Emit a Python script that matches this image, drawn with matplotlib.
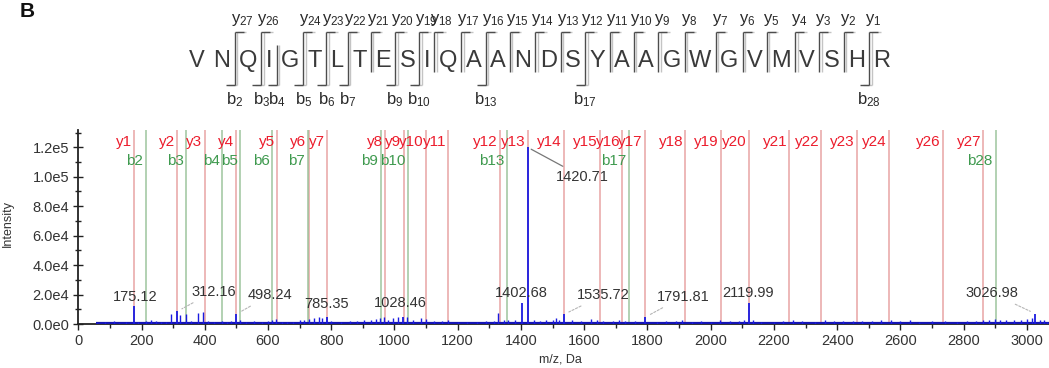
import math
import matplotlib
matplotlib.use("Agg")
import matplotlib.pyplot as plt
from matplotlib.lines import Line2D
from matplotlib.ticker import MultipleLocator, FixedLocator, FuncFormatter
from matplotlib.font_manager import FontProperties

plt.rcParams["font.family"] = ["Liberation Sans", "DejaVu Sans"]
plt.rcParams["mathtext.fontset"] = "custom"
plt.rcParams["mathtext.rm"] = "Liberation Sans"
plt.rcParams["mathtext.it"] = "Liberation Sans:italic"
plt.rcParams["mathtext.bf"] = "Liberation Sans:bold"

# ---------------- data ----------------
sequence = "VNQIGTLTESIQAANDSYAAGWGVMVSHR"

y_ion_numbers = [1, 2, 3, 4, 5, 6, 7, 8, 9, 10, 11, 12, 13, 14, 15, 16, 17,
                 18, 19, 20, 21, 22, 23, 24, 26, 27]
y_ion_mz = [175.1, 312.2, 399.2, 498.3, 629.3, 728.4, 785.4, 971.5, 1028.5,
            1099.5, 1170.6, 1333.6, 1420.7, 1535.7, 1649.7, 1720.8, 1791.8,
            1919.9, 2033.0, 2120.0, 2249.0, 2350.1, 2463.2, 2564.2, 2734.3,
            2862.4]

b_ion_numbers = [2, 3, 4, 5, 6, 7, 9, 10, 13, 17, 28]
b_ion_mz = [214.1, 342.2, 455.3, 512.3, 613.3, 726.4, 956.5, 1043.5, 1355.7,
            1742.9, 2901.4]

labeled_text = ["175.12", "312.16", "498.24", "785.35", "1028.46", "1402.68",
                "1420.71", "1535.72", "1791.81", "2119.99", "3026.98"]
labeled_mz = [175.12, 312.16, 498.24, 785.35, 1028.46, 1402.68, 1420.71,
              1535.72, 1791.81, 2119.99, 3026.98]
labeled_intensity = [12500, 8500, 6500, 5000, 5000, 14000, 120000, 6500, 4500,
                     14500, 7000]

peak_mz = [60, 85, 114, 130, 150, 190, 214, 230, 246, 260, 276, 294, 322, 340,
           358, 377, 395, 410, 430, 455, 470, 482, 512, 530, 555, 580, 600, 614,
           626, 645, 660, 680, 700, 715, 730, 745, 760, 771, 800, 830, 860, 880,
           905, 925, 942, 955, 968, 980, 995, 1010, 1040, 1060, 1085, 1101,
           1125, 1150, 1170, 1200, 1230, 1260, 1290, 1314, 1326, 1345, 1360,
           1380, 1440, 1460, 1480, 1500, 1510, 1520, 1560, 1590, 1620, 1640,
           1660, 1690, 1710, 1730, 1760, 1830, 1860, 1890, 1910, 1940, 1970,
           2000, 2030, 2060, 2090, 2105, 2135, 2160, 2200, 2230, 2260, 2290,
           2330, 2360, 2390, 2420, 2450, 2480, 2510, 2540, 2570, 2600, 2630,
           2660, 2700, 2740, 2780, 2810, 2840, 2860, 2880, 2900, 2915, 2935,
           2960, 2980, 3000, 3015, 3040, 3055, 3065]
peak_intensity = [1000, 1200, 2200, 1000, 1200, 1500, 2200, 2600, 2000, 1200,
                  1500, 6500, 6000, 6500, 1800, 7500, 8000, 2000, 1500, 1800,
                  1600, 2000, 2500, 1500, 2000, 1500, 2000, 3000, 3500, 1500,
                  1200, 1500, 2500, 3000, 3500, 4000, 5000, 4000, 2000, 1500,
                  1800, 2000, 2500, 3000, 3500, 4000, 4500, 3000, 4000, 4500,
                  4500, 2500, 4000, 3500, 2000, 1800, 2500, 1500, 1200, 1500,
                  1800, 2000, 7500, 2500, 3000, 2500, 3000, 2000, 2500, 3000,
                  4000, 3000, 2500, 2000, 3500, 2500, 2000, 1800, 2500, 1800,
                  2000, 1500, 1800, 2000, 3000, 1500, 2000, 1500, 2500, 2000,
                  1800, 3000, 3000, 1500, 1200, 2000, 2500, 1800, 1500, 2500,
                  2000, 1800, 2000, 2000, 2200, 2500, 2500, 1800, 2800, 1500,
                  2000, 1800, 1500, 2000, 1800, 2500, 3000, 3500, 3000, 2500,
                  2800, 3000, 3500, 4000, 3000, 2500, 1500]

baseline_start = 55
baseline_end = 3070
baseline_level = 900

x_ticks = list(range(0, 3001, 200))
y_ticks = [0, 20000, 40000, 60000, 80000, 100000, 120000]

# ---------------- styling ----------------
W, H = 1049, 368
RED_LINE = "#e59a9a"
GREEN_LINE = "#94bf94"
RED_TXT = "#ec1c2c"
GREEN_TXT = "#3f9a4f"
BLUE = "#1a1ae0"
BASE_BLUE = "#1414b4"
TXT = "#333333"

fig = plt.figure(figsize=(W / 100, H / 100), dpi=100)

ax_left, ax_bottom, ax_top = 78.3, 324.0, 130.0
ax = fig.add_axes([ax_left / W, 1 - ax_bottom / H, (W - ax_left) / W,
                   (ax_bottom - ax_top) / H])
ax.set_xlim(0, 3070)
ax.set_ylim(0, 131700)

for mz in y_ion_mz:
    ax.axvline(mz, color=RED_LINE, lw=1.1, alpha=0.9, zorder=1)
for mz in b_ion_mz:
    ax.axvline(mz, color=GREEN_LINE, lw=1.1, alpha=0.9, zorder=1)

ax.hlines(baseline_level, baseline_start, baseline_end, color=BASE_BLUE,
          lw=1.6, zorder=3)
ax.vlines(peak_mz, 0, peak_intensity, color=BLUE, lw=1.0, zorder=3)
ax.vlines(labeled_mz, 0, labeled_intensity, color=BLUE, lw=1.3, zorder=3)

# ion labels at the top of the spectrum
for n, mz in zip(y_ion_numbers, y_ion_mz):
    ax.annotate(f"y{n}", xy=(mz, 0.915), xycoords=("data", "axes fraction"),
                xytext=(-1.5, 0), textcoords="offset points", ha="right",
                va="baseline", color=RED_TXT, fontsize=11, zorder=5)
for n, mz in zip(b_ion_numbers, b_ion_mz):
    ax.annotate(f"b{n}", xy=(mz, 0.820), xycoords=("data", "axes fraction"),
                xytext=(-2, 0), textcoords="offset points", ha="right",
                va="baseline", color=GREEN_TXT, fontsize=11, zorder=5)

# peak labels: offsets in pixels (dx, dy) relative to the peak top
label_offsets_px = [(1.8, -8.9), (36.5, -19.8), (34.2, -19.4), (0, -12.3),
                    (-3.4, -13.3), (0, -10), (54.6, 29.5), (39.5, -19.4),
                    (38.3, -20.7), (-1, -9.3), (-43.5, -20.4)]
leader = [False, True, True, False, False, False, True, True, True, False, True]
for txt, mz, inten, (dx, dy), ld in zip(labeled_text, labeled_mz,
                                         labeled_intensity, label_offsets_px,
                                         leader):
    kw = {}
    if ld:
        if txt == "1420.71":
            kw["arrowprops"] = dict(arrowstyle="-", color="#777777", lw=0.9,
                                    shrinkA=1, shrinkB=3)
        else:
            kw["arrowprops"] = dict(arrowstyle="-", color="#b5b5b5", lw=0.8,
                                    linestyle=(0, (2, 1.5)), shrinkA=2,
                                    shrinkB=4)
    ax.annotate(txt, xy=(mz, inten), xytext=(dx * 0.72, -dy * 0.72),
                textcoords="offset points", ha="center", va="center",
                fontsize=10.5, color=TXT, zorder=6, **kw)

def sci_fmt(v, pos):
    if v == 0:
        return "0.0e0"
    e = int(math.floor(math.log10(abs(v)) + 1e-9))
    return f"{v / 10 ** e:.1f}e{e}"

ax.xaxis.set_major_locator(FixedLocator(x_ticks))
ax.xaxis.set_minor_locator(MultipleLocator(100))
ax.yaxis.set_major_locator(FixedLocator(y_ticks))
ax.yaxis.set_minor_locator(MultipleLocator(10000))
ax.yaxis.set_major_formatter(FuncFormatter(sci_fmt))
ax.tick_params(axis="x", which="major", direction="out", length=4, width=1,
               pad=3, labelsize=10.5, labelcolor=TXT, color="#222222")
ax.tick_params(axis="x", which="minor", direction="out", length=3, width=1,
               color="#222222")
ax.tick_params(axis="y", which="major", direction="inout", length=7, width=1,
               pad=3, labelsize=10.5, labelcolor=TXT, color="#222222")
ax.tick_params(axis="y", which="minor", direction="inout", length=5, width=1,
               color="#222222")
for s in ("top", "right"):
    ax.spines[s].set_visible(False)
for s in ("left", "bottom"):
    ax.spines[s].set_color("#222222")
    ax.spines[s].set_linewidth(1.3)

ax.set_ylabel("Intensity", fontsize=9, color=TXT)
ax.yaxis.set_label_coords(-0.066, 0.52)
ax.set_xlabel("m/z, Da", fontsize=9, color=TXT)
ax.xaxis.set_label_coords(0.497, -0.15)

# ---------------- sequence / fragment map ----------------
fig.text(20 / W, 1 - 17 / H, "B", fontsize=15, weight="bold", ha="left",
         va="baseline", color="#111111")

seq_fs = 17
fig.canvas.draw()
renderer = fig.canvas.get_renderer()
prop = FontProperties(family="Liberation Sans", size=seq_fs)
w_bar = renderer.get_text_width_height_descent("||", prop, ismath=False)[0]
adv = [renderer.get_text_width_height_descent("|" + ch + "|", prop,
                                               ismath=False)[0] - w_bar
       for ch in sequence]

first_c, last_c = 197.0, 882.0
pair_sum = sum((adv[i - 1] + adv[i]) / 2 for i in range(1, len(sequence)))
gap = (last_c - first_c - pair_sum) / (len(sequence) - 1)
centers = [first_c]
for i in range(1, len(sequence)):
    centers.append(centers[-1] + (adv[i - 1] + adv[i]) / 2 + gap)

letter_base = 66.7
for ch, cx in zip(sequence, centers):
    fig.text(cx / W, 1 - letter_base / H, ch, fontsize=seq_fs, ha="center",
             va="baseline", color="#3a3a3a")

def fline(xs, ys, color, lw):
    fig.add_artist(Line2D([x / W for x in xs], [1 - y / H for y in ys],
                          transform=fig.transFigure, color=color, lw=lw,
                          solid_capstyle="butt"))

n_res = len(sequence)
y_sites = {n_res - n: n for n in y_ion_numbers}
b_sites = {n: n for n in b_ion_numbers}
top_y, bot_y, tick = 32.0, 85.0, 9.0
for k in range(1, n_res):
    has_y = k in y_sites
    has_b = k in b_sites
    if not (has_y or has_b):
        continue
    xs = centers[k - 1] + adv[k - 1] / 2 + gap / 2
    y0 = top_y if has_y else 45.0
    y1 = bot_y if has_b else 72.0
    for off, col, lw in ((2.5, "#c4c4c4", 1.0), (0, "#4d4d4d", 1.0)):
        fline([xs + off, xs + off], [y0, y1], col, lw)
        if has_y:
            fline([xs + off, xs + off + tick], [y0, y0], col, lw)
        if has_b:
            fline([xs + off - tick, xs + off], [y1, y1], col, lw)
    if has_y:
        fig.text((xs - 4) / W, 1 - 23 / H,
                 r"y$\mathregular{_{%d}}$" % y_sites[k], fontsize=12,
                 ha="left", va="baseline", color="#2a2a2a")
    if has_b:
        fig.text(xs / W, 1 - 104.5 / H,
                 r"b$\mathregular{_{%d}}$" % b_sites[k], fontsize=12,
                 ha="center", va="baseline", color="#2a2a2a")

fig.savefig("out.png", dpi=100)
